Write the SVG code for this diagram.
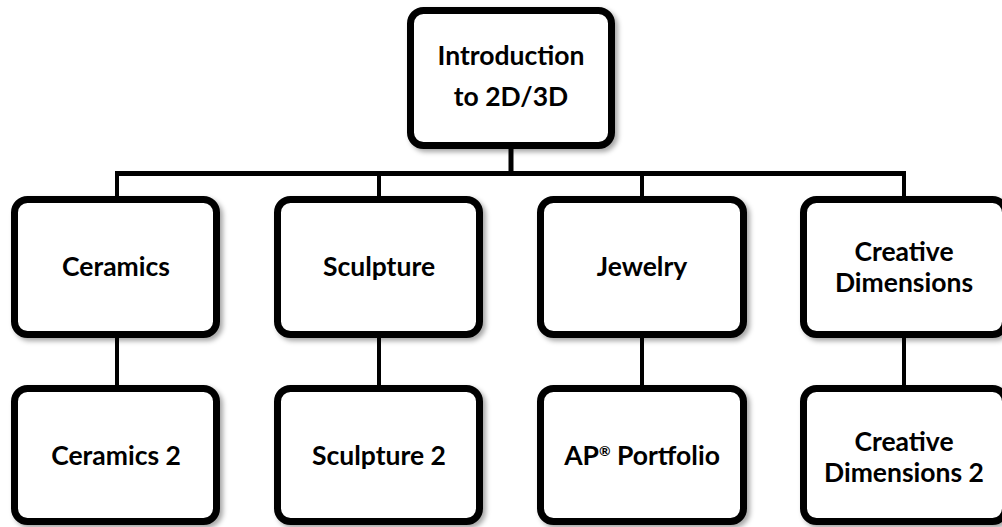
<svg xmlns="http://www.w3.org/2000/svg" width="1002" height="527" viewBox="0 0 1002 527">
<defs>
<filter id="sh" x="-10%" y="-10%" width="130%" height="130%">
<feDropShadow dx="3" dy="3" stdDeviation="2.5" flood-color="#000" flood-opacity="0.35"/>
</filter>
</defs>
<style>
.box{fill:#fff;stroke:#000;stroke-width:7;filter:url(#sh)}
.lbl{font-family:Lato,"Open Sans","Liberation Sans",sans-serif;font-weight:bold;font-size:26.5px;fill:#000;text-anchor:middle}
.ln{stroke:#000;fill:none}
</style>
<rect width="1002" height="527" fill="#fff"/>
<g id="connectors">
<line class="ln" x1="511" y1="149" x2="511" y2="174" stroke-width="5"/>
<line class="ln" x1="115" y1="173.5" x2="906" y2="173.5" stroke-width="5"/>
<line class="ln" x1="117" y1="173" x2="117" y2="197" stroke-width="4"/>
<line class="ln" x1="379" y1="173" x2="379" y2="197" stroke-width="4"/>
<line class="ln" x1="642" y1="173" x2="642" y2="197" stroke-width="4"/>
<line class="ln" x1="904" y1="173" x2="904" y2="197" stroke-width="4"/>
<line class="ln" x1="117" y1="337" x2="117" y2="386" stroke-width="4"/>
<line class="ln" x1="379" y1="337" x2="379" y2="386" stroke-width="4"/>
<line class="ln" x1="642" y1="337" x2="642" y2="386" stroke-width="4"/>
<line class="ln" x1="904" y1="337" x2="904" y2="386" stroke-width="4"/>
</g>
<g id="intro">
<rect class="box" x="410.5" y="10.5" width="201" height="135" rx="13"/>
<text class="lbl" x="511" y="65">Introduction</text>
<text class="lbl" x="511" y="106">to 2D/3D</text>
</g>
<g id="ceramics">
<rect class="box" x="14.5" y="199.5" width="202" height="135" rx="13"/>
<text class="lbl" x="116" y="276">Ceramics</text>
</g>
<g id="sculpture">
<rect class="box" x="277.5" y="199.5" width="202" height="135" rx="13"/>
<text class="lbl" x="379" y="276">Sculpture</text>
</g>
<g id="jewelry">
<rect class="box" x="540.5" y="199.5" width="203" height="135" rx="13"/>
<text class="lbl" x="642" y="276">Jewelry</text>
</g>
<g id="creative">
<rect class="box" x="803.5" y="199.5" width="202" height="135" rx="13"/>
<text class="lbl" x="904" y="261">Creative</text>
<text class="lbl" x="904" y="292">Dimensions</text>
</g>
<g id="ceramics2">
<rect class="box" x="14.5" y="388.5" width="202" height="133" rx="13"/>
<text class="lbl" x="116" y="465">Ceramics 2</text>
</g>
<g id="sculpture2">
<rect class="box" x="277.5" y="388.5" width="202" height="133" rx="13"/>
<text class="lbl" x="379" y="465">Sculpture 2</text>
</g>
<g id="ap">
<rect class="box" x="540.5" y="388.5" width="203" height="133" rx="13"/>
<text class="lbl" x="642" y="465">AP<tspan font-size="14" dy="-9">®</tspan><tspan dy="9"> Portfolio</tspan></text>
</g>
<g id="creative2">
<rect class="box" x="803.5" y="388.5" width="202" height="133" rx="13"/>
<text class="lbl" x="904" y="451">Creative</text>
<text class="lbl" x="904" y="482">Dimensions 2</text>
</g>
</svg>
